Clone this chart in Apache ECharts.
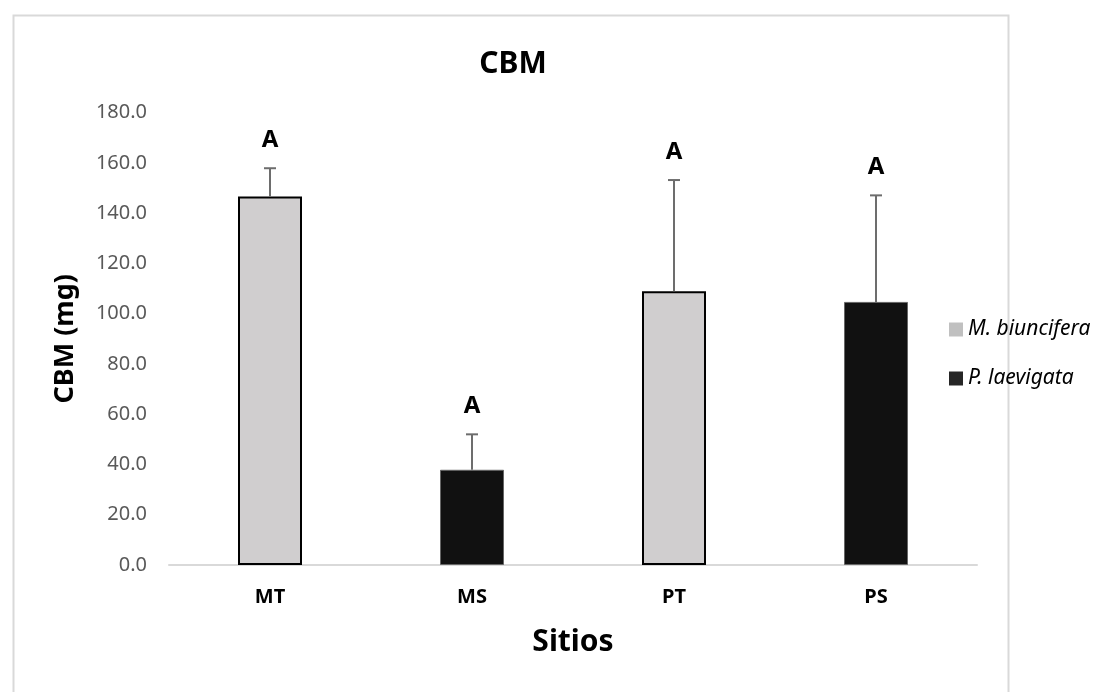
<!DOCTYPE html>
<html>
<head>
<meta charset="utf-8">
<script src="https://cdn.jsdelivr.net/npm/echarts@6/dist/echarts.min.js"></script>
<style>
html,body{margin:0;padding:0;background:#fff;}
#chart{width:1113px;height:692px;}
</style>
</head>
<body>
<div id="chart"></div>
<script>
const categories = ['MT', 'MS', 'PT', 'PS'];
const seriesNames = ['M. biuncifera', 'P. laevigata'];
const biuncifera = [146.7, null, 108.9, null];
const laevigata = [null, 37.9, null, 104.7];
const errorTops = [157.9, 52.0, 153.2, 147.1];
const letters = ['A', 'A', 'A', 'A'];
const yTicks = [0, 20, 40, 60, 80, 100, 120, 140, 160, 180];

const FONT = 'Noto Sans';
const chart = echarts.init(document.getElementById('chart'));

const errData = categories.map((c, i) => {
  const v = biuncifera[i] != null ? biuncifera[i] : laevigata[i];
  return [i, v, errorTops[i], letters[i]];
});

chart.setOption({
  animation: false,
  backgroundColor: '#fff',
  graphic: [{
    type: 'rect', left: 11, top: 13, z: -1,
    shape: { width: 995, height: 700 },
    style: { fill: 'none', stroke: '#d9d9d9', lineWidth: 2 }
  }],
  title: {
    text: 'CBM', left: 508, top: 44, textAlign: 'center',
    textStyle: { fontFamily: FONT, fontWeight: 'bold', fontSize: 30, color: '#000' }
  },
  legend: {
    orient: 'vertical', left: 944, top: 314, itemGap: 28,
    itemWidth: 14, itemHeight: 14, icon: 'rect',
    data: [
      { name: seriesNames[0], itemStyle: { color: '#c0c0c0', borderWidth: 0 } },
      { name: seriesNames[1], itemStyle: { color: '#262626', borderWidth: 0 } }
    ],
    textStyle: { fontFamily: FONT, fontStyle: 'italic', fontSize: 21, color: '#000' }
  },
  grid: { left: 169, right: 136, top: 112.7, bottom: 127 },
  xAxis: {
    type: 'category', data: categories,
    name: 'Sitios', nameLocation: 'middle', nameGap: 62,
    nameTextStyle: { fontFamily: FONT, fontWeight: 'bold', fontSize: 30, color: '#000' },
    axisLine: { lineStyle: { color: '#d9d9d9', width: 2 } },
    axisTick: { show: false },
    axisLabel: { margin: 22, fontFamily: FONT, fontWeight: 'bold', fontSize: 20, color: '#000' }
  },
  yAxis: {
    type: 'value', min: yTicks[0], max: yTicks[yTicks.length - 1], interval: 20,
    name: 'CBM (mg)', nameLocation: 'middle', nameGap: 90,
    nameTextStyle: { fontFamily: FONT, fontWeight: 'bold', fontSize: 27, color: '#000' },
    axisLine: { show: false }, axisTick: { show: false },
    splitLine: { show: false },
    axisLabel: { margin: 22, fontFamily: FONT, fontSize: 20, color: '#595959',
      formatter: v => v.toFixed(1) }
  },
  series: [
    {
      name: seriesNames[0], type: 'bar', data: biuncifera, barWidth: 64, barGap: '-100%',
      itemStyle: { color: '#d0cecf', borderColor: '#000', borderWidth: 2 }
    },
    {
      name: seriesNames[1], type: 'bar', data: laevigata, barWidth: 64, barGap: '-100%',
      itemStyle: { color: '#111111', borderColor: '#666', borderWidth: 1 }
    },
    {
      type: 'custom', data: errData, z: 5,
      renderItem: function (params, api) {
        const x = api.value(0);
        const base = api.coord([x, api.value(1)]);
        const top = api.coord([x, api.value(2)]);
        const cap = 6;
        return {
          type: 'group',
          children: [
            { type: 'line', shape: { x1: base[0], y1: base[1], x2: top[0], y2: top[1] },
              style: { stroke: '#6d6d6d', lineWidth: 2 } },
            { type: 'line', shape: { x1: top[0] - cap, y1: top[1], x2: top[0] + cap, y2: top[1] },
              style: { stroke: '#6d6d6d', lineWidth: 2 } },
            { type: 'text', x: top[0], y: top[1] - 28,
              style: { text: api.value(3), fontFamily: FONT, fontWeight: 'bold', fontSize: 24,
                fill: '#000', align: 'center', verticalAlign: 'middle' } }
          ]
        };
      }
    }
  ]
});
</script>
</body>
</html>
